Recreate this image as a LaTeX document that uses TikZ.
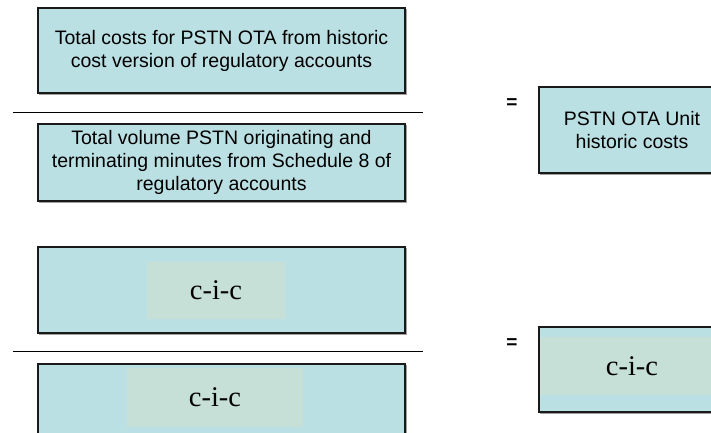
\documentclass[tikz,border=0pt]{standalone}
\usepackage{fontspec}
\setmainfont{Liberation Sans}
\newfontfamily\cicfont{Liberation Serif}
\definecolor{boxfill}{RGB}{187,224,227}
\definecolor{cicfill}{RGB}{198,224,215}
\definecolor{edge}{RGB}{25,25,25}
\begin{document}
\begin{tikzpicture}[x=1pt,y=-1pt,
  panel/.style={draw=edge, line width=1.1pt, fill=boxfill, rectangle, inner sep=0pt,
    preaction={draw=gray!75, line width=1.4pt, transform canvas={shift={(1.2pt,-1.2pt)}}},
    font=\fontsize{19.5}{23}\selectfont, align=center},
  cic/.style={fill=cicfill, rectangle, inner sep=0pt,
    font=\cicfont\fontsize{28.5}{30}\selectfont},
  bar/.style={draw=black, line width=1pt},
  eq/.style={font=\bfseries\fontsize{19}{20}\selectfont, inner sep=0pt}]
\useasboundingbox (0,0) rectangle (711,432);

% historic cost fraction
\node[panel, minimum width=367pt, minimum height=85pt] (num1) at (221.5,50.5)
  {Total costs for PSTN OTA from historic\\cost version of regulatory accounts};
\node[panel, minimum width=367pt, minimum height=77pt] (den1) at (221.5,162.5)
  {Total volume PSTN originating and\\terminating minutes from Schedule 8 of\\regulatory accounts};
\coordinate (b1l) at (13,112);
\coordinate (b1r) at (423,112);
\draw[bar] (b1l) -- (b1r);
\node[eq] (eq1) at (512,104) {=};
\node[panel, minimum width=186pt, minimum height=86pt] (res1) at (632,130)
  {PSTN OTA Unit\\historic costs};

% confidential fraction
\node[panel, minimum width=367pt, minimum height=86pt] (num2) at (221.5,290) {};
\node[cic, minimum width=138pt, minimum height=57pt] (cic1) at (216,290.5) {c-i-c};
\coordinate (b2l) at (13,351);
\coordinate (b2r) at (423,351);
\draw[bar] (b2l) -- (b2r);
\node[panel, minimum width=367pt, minimum height=86pt] (den2) at (221.5,407) {};
\node[cic, minimum width=176pt, minimum height=59pt] (cic2) at (215,397.5) {c-i-c};
\node[eq] (eq2) at (512,344) {=};
\node[panel, minimum width=186pt, minimum height=85pt] (res2) at (632,369.5) {};
\node[cic, minimum width=184pt, minimum height=58pt] (cic3) at (632,366) {c-i-c};
\end{tikzpicture}
\end{document}
